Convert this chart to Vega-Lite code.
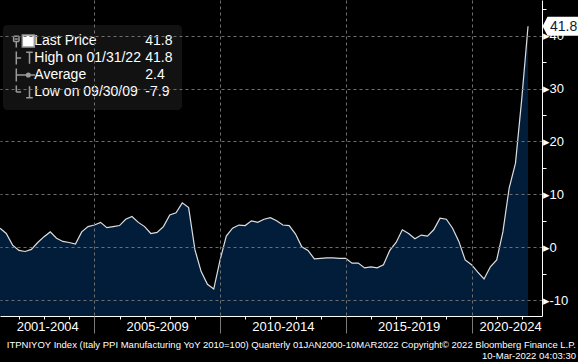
{
  "$schema": "https://vega.github.io/schema/vega-lite/v6.json",
  "width": 542,
  "height": 316,
  "autosize": "none",
  "padding": {"left": 0, "top": 0, "right": 36, "bottom": 46},
  "background": "#000000",
  "config": {
    "view": {"stroke": null},
    "font": "Liberation Sans",
    "axis": {"labelFont": "Liberation Sans"},
    "legend": {"labelFont": "Liberation Sans"}
  },
  "title": {
    "text": ["ITPNIYOY Index (Italy PPI Manufacturing YoY 2010=100)  Quarterly 01JAN2000-10MAR2022 Copyright© 2022 Bloomberg Finance L.P.", "10-Mar-2022 04:03:30"],
    "orient": "bottom",
    "anchor": "end",
    "frame": "group",
    "offset": 6,
    "dx": 34,
    "color": "#ffffff",
    "font": "Liberation Sans",
    "fontSize": 9.5,
    "fontWeight": "normal",
    "lineHeight": 11
  },
  "datasets": {
    "series": [
      {"date": "2001-03-31", "value": 3.6},
      {"date": "2001-06-30", "value": 2.6},
      {"date": "2001-09-30", "value": 0.4},
      {"date": "2001-12-31", "value": -0.6},
      {"date": "2002-03-31", "value": -0.8},
      {"date": "2002-06-30", "value": -0.4},
      {"date": "2002-09-30", "value": 0.9},
      {"date": "2002-12-31", "value": 2.0},
      {"date": "2003-03-31", "value": 2.9},
      {"date": "2003-06-30", "value": 1.7},
      {"date": "2003-09-30", "value": 1.1},
      {"date": "2003-12-31", "value": 0.9},
      {"date": "2004-03-31", "value": 0.6},
      {"date": "2004-06-30", "value": 2.9},
      {"date": "2004-09-30", "value": 3.9},
      {"date": "2004-12-31", "value": 4.2},
      {"date": "2005-03-31", "value": 4.7},
      {"date": "2005-06-30", "value": 3.7},
      {"date": "2005-09-30", "value": 3.9},
      {"date": "2005-12-31", "value": 4.1},
      {"date": "2006-03-31", "value": 5.3},
      {"date": "2006-06-30", "value": 5.8},
      {"date": "2006-09-30", "value": 4.7},
      {"date": "2006-12-31", "value": 3.9},
      {"date": "2007-03-31", "value": 2.6},
      {"date": "2007-06-30", "value": 2.8},
      {"date": "2007-09-30", "value": 3.9},
      {"date": "2007-12-31", "value": 6.1},
      {"date": "2008-03-31", "value": 6.5},
      {"date": "2008-06-30", "value": 8.4},
      {"date": "2008-09-30", "value": 7.5},
      {"date": "2008-12-31", "value": -0.5},
      {"date": "2009-03-31", "value": -4.6},
      {"date": "2009-06-30", "value": -7.0},
      {"date": "2009-09-30", "value": -7.9},
      {"date": "2009-12-31", "value": -2.4},
      {"date": "2010-03-31", "value": 2.1},
      {"date": "2010-06-30", "value": 3.6},
      {"date": "2010-09-30", "value": 4.2},
      {"date": "2010-12-31", "value": 4.1},
      {"date": "2011-03-31", "value": 5.0},
      {"date": "2011-06-30", "value": 4.7},
      {"date": "2011-09-30", "value": 5.3},
      {"date": "2011-12-31", "value": 5.6},
      {"date": "2012-03-31", "value": 5.0},
      {"date": "2012-06-30", "value": 4.2},
      {"date": "2012-09-30", "value": 4.1},
      {"date": "2012-12-31", "value": 2.5},
      {"date": "2013-03-31", "value": 0.1},
      {"date": "2013-06-30", "value": -0.6},
      {"date": "2013-09-30", "value": -2.2},
      {"date": "2013-12-31", "value": -2.1},
      {"date": "2014-03-31", "value": -2.0},
      {"date": "2014-06-30", "value": -2.0},
      {"date": "2014-09-30", "value": -2.1},
      {"date": "2014-12-31", "value": -2.1},
      {"date": "2015-03-31", "value": -3.0},
      {"date": "2015-06-30", "value": -3.0},
      {"date": "2015-09-30", "value": -3.9},
      {"date": "2015-12-31", "value": -3.7},
      {"date": "2016-03-31", "value": -3.9},
      {"date": "2016-06-30", "value": -3.3},
      {"date": "2016-09-30", "value": -0.6},
      {"date": "2016-12-31", "value": 0.9},
      {"date": "2017-03-31", "value": 3.3},
      {"date": "2017-06-30", "value": 2.6},
      {"date": "2017-09-30", "value": 1.6},
      {"date": "2017-12-31", "value": 2.3},
      {"date": "2018-03-31", "value": 2.1},
      {"date": "2018-06-30", "value": 3.3},
      {"date": "2018-09-30", "value": 5.5},
      {"date": "2018-12-31", "value": 5.3},
      {"date": "2019-03-31", "value": 3.6},
      {"date": "2019-06-30", "value": 1.1},
      {"date": "2019-09-30", "value": -2.4},
      {"date": "2019-12-31", "value": -3.3},
      {"date": "2020-03-31", "value": -4.7},
      {"date": "2020-06-30", "value": -6.0},
      {"date": "2020-09-30", "value": -3.7},
      {"date": "2020-12-31", "value": -2.4},
      {"date": "2021-03-31", "value": 2.9},
      {"date": "2021-06-30", "value": 11.2},
      {"date": "2021-09-30", "value": 15.9},
      {"date": "2021-12-31", "value": 28.2},
      {"date": "2022-03-31", "value": 41.8}
    ],
    "legenditems": [
      {"name": "Last Price", "val": "41.8"},
      {"name": "High on 01/31/22", "val": "41.8\u200b"},
      {"name": "Average", "val": "\u20072.4"},
      {"name": "Low on 09/30/09", "val": "-7.9"}
    ]
  },
  "layer": [
    {
      "data": {"name": "series"},
      "mark": {"type": "area", "color": "#021d3a"},
      "encoding": {
        "x": {
          "field": "date", "type": "temporal",
          "scale": {"domain": [{"year": 2001, "month": 3, "date": 31}, {"year": 2022, "month": 10, "date": 20}]},
          "axis": {"orient": "bottom", "title": null, "labels": false, "grid": false, "tickCount": {"interval": "year", "step": 1}, "tickSize": 3, "tickColor": "#ffffff", "domainColor": "#ffffff", "domainWidth": 1, "labelFlush": false}
        },
        "y": {
          "field": "value", "type": "quantitative",
          "scale": {"domain": [-13, 46.75], "nice": false, "zero": false},
          "axis": null
        },
        "y2": {"datum": -13}
      }
    },
    {
      "data": {"name": "series"},
      "mark": {"type": "line", "color": "#dedede", "strokeWidth": 1.2},
      "encoding": {
        "x": {"field": "date", "type": "temporal", "axis": null},
        "y": {
          "field": "value", "type": "quantitative",
          "axis": {
            "orient": "right", "title": null,
            "values": [-10, 0, 10, 20, 30, 40],
            "labelExpr": "'▸' + datum.value",
            "domainColor": "#ffffff", "ticks": false, "tickSize": 0,
            "labelColor": "#ffffff", "labelFontSize": 13, "labelPadding": 0,
            "labelFlush": false, "labelOverlap": false, "labelBound": false,
            "grid": true, "gridColor": "#6e6e6e", "gridDash": [3, 3],
            "zindex": 1
          }
        }
      }
    },
    {
      "data": {"name": "series"},
      "transform": [{"filter": "datum.value > 40"}],
      "mark": {"type": "point", "filled": true, "color": "#ffffff", "opacity": 1, "size": 4, "strokeWidth": 0, "shape": "M14.5,0 L19.5,-9.5 L52,-9.5 L52,9.5 L19.5,9.5 Z"},
      "encoding": {
        "x": {
          "field": "date", "type": "temporal",
          "axis": {"orient": "bottom", "title": null, "labels": false, "domain": false,
            "values": [{"year": 2005, "month": 1, "date": 1}, {"year": 2010, "month": 1, "date": 1}, {"year": 2015, "month": 1, "date": 1}, {"year": 2020, "month": 1, "date": 1}],
            "tickSize": 17, "tickColor": "#7a7a7a", "grid": true, "gridColor": "#6e6e6e", "gridDash": [3, 3], "zindex": 1}
        },
        "y": {
          "field": "value", "type": "quantitative",
          "axis": {
            "orient": "right", "title": null, "labels": false, "domain": false, "grid": false,
            "values": [-5, 5, 15, 25, 35, 45],
            "tickSize": 4, "tickColor": "#ffffff"
          }
        }
      }
    },
    {
      "data": {"name": "series"},
      "transform": [{"filter": "datum.value > 40"}],
      "mark": {"type": "text", "align": "left", "baseline": "middle", "dx": 22, "dy": 1, "fontSize": 14, "color": "#0b1a33", "font": "Liberation Sans"},
      "encoding": {
        "x": {
          "field": "date", "type": "temporal",
          "axis": {"orient": "bottom", "title": null, "domain": false, "ticks": false, "tickSize": 0, "grid": false,
            "values": [{"year": 2003, "month": 2, "date": 15}, {"year": 2007, "month": 7, "date": 1}, {"year": 2012, "month": 7, "date": 1}, {"year": 2017, "month": 7, "date": 1}, {"year": 2021, "month": 7, "date": 15}],
            "labelExpr": "year(datum.value) < 2005 ? '2001-2004' : year(datum.value) < 2010 ? '2005-2009' : year(datum.value) < 2015 ? '2010-2014' : year(datum.value) < 2020 ? '2015-2019' : '2020-2024'",
            "labelColor": "#ffffff", "labelFontSize": 13, "labelPadding": 4, "labelFlush": false, "labelOverlap": false, "labelBound": false}
        },
        "y": {"field": "value", "type": "quantitative", "axis": null},
        "text": {"field": "value", "type": "quantitative", "format": ".1f"}
      }
    },
    {
      "data": {"name": "legenditems"},
      "transform": [{"filter": "false"}],
      "mark": {"type": "point", "filled": true, "stroke": "#9a9a9a", "strokeWidth": 0.8, "opacity": 1},
      "encoding": {
        "shape": {
          "field": "val", "type": "nominal",
          "scale": {
            "domain": ["41.8", "41.8\u200b", "\u20072.4", "-7.9"],
            "range": [
              "M-1,-1H1V1H-1Z M-2.45,-0.8H-1.55 M-1.55,-0.8V0.1 M-1.55,0.1H-2.45 M-2.45,0.1V-0.8 M-2.25,-0.35H-1.75 M-2,0.1V1.1",
              "M-2,-1.1V1.1 M-2,0H-1.2 M-0.35,-0.95H0.75 M0.2,-0.95V0.95",
              "M-2,-1.1V1.1 M-2,0H1.1 M-0.3,0A0.3,0.3 0 1,0 0.3,0A0.3,0.3 0 1,0 -0.3,0",
              "M-2,-1.1V0 M-2,0H-1.2 M0.2,-0.95V0.95 M-0.35,0.95H0.75"
            ]
          },
          "legend": {
            "orient": "none", "legendX": 3, "legendY": 25, "title": null,
            "fillColor": "#121212", "padding": 9, "cornerRadius": 4,
            "labelColor": "#ffffff", "labelFontSize": 14, "labelOffset": 110,
            "symbolSize": 144, "symbolOffset": 9.3, "rowPadding": -8.2
          }
        },
        "fill": {
          "field": "val", "type": "nominal",
          "scale": {
            "domain": ["41.8", "41.8\u200b", "\u20072.4", "-7.9"],
            "range": ["#ffffff", "#9a9a9a", "#9a9a9a", "#9a9a9a"]
          },
          "legend": {
            "orient": "none", "legendX": 3, "legendY": 25, "title": null,
            "fillColor": "#121212", "padding": 9, "cornerRadius": 4,
            "labelColor": "#ffffff", "labelFontSize": 14, "labelOffset": 110,
            "symbolSize": 144, "symbolOffset": 9.3, "rowPadding": -8.2
          }
        }
      }
    },
    {
      "data": {"name": "legenditems"},
      "transform": [{"filter": "false"}],
      "mark": {"type": "point", "filled": true, "fill": "transparent", "stroke": "transparent", "strokeWidth": 0.8, "opacity": 1},
      "encoding": {
        "shape": {
          "field": "name", "type": "nominal",
          "scale": {
            "domain": ["Last Price", "High on 01/31/22", "Average", "Low on 09/30/09"],
            "range": [
              "M-1,-1H1V1H-1Z M-2.45,-0.8H-1.55 M-1.55,-0.8V0.1 M-1.55,0.1H-2.45 M-2.45,0.1V-0.8 M-2.25,-0.35H-1.75 M-2,0.1V1.1",
              "M-2,-1.1V1.1 M-2,0H-1.2 M-0.35,-0.95H0.75 M0.2,-0.95V0.95",
              "M-2,-1.1V1.1 M-2,0H1.1 M-0.3,0A0.3,0.3 0 1,0 0.3,0A0.3,0.3 0 1,0 -0.3,0",
              "M-2,-1.1V0 M-2,0H-1.2 M0.2,-0.95V0.95 M-0.35,0.95H0.75"
            ]
          },
          "legend": {
            "orient": "none", "legendX": 3, "legendY": 25, "title": null,
            "padding": 9,
            "labelColor": "#ffffff", "labelFontSize": 14, "labelOffset": -1,
            "symbolSize": 144, "symbolOffset": 9.3, "rowPadding": -8.2
          }
        }
      }
    }
  ],
  "resolve": {
    "axis": {"x": "independent", "y": "independent"},
    "scale": {"shape": "independent", "fill": "independent"},
    "legend": {"shape": "independent", "fill": "independent"}
  }
}
